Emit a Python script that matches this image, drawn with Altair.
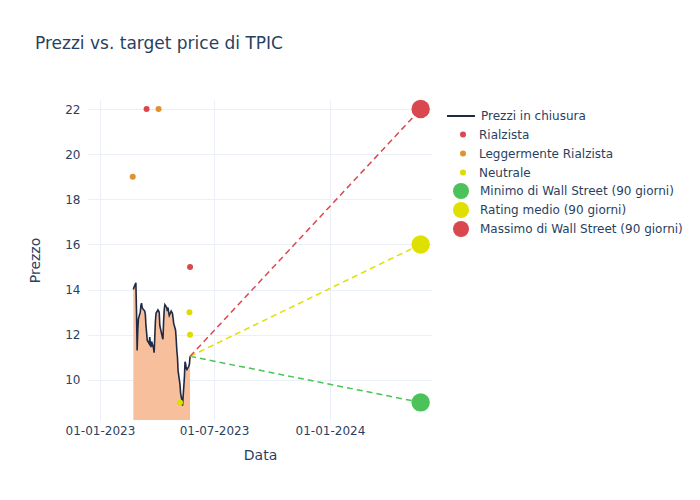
import altair as alt
import pandas as pd

FONT = "DejaVu Sans"
TXT = "#2a3f5f"

# --- closing prices (trading days 23-02-2023 .. 24-05-2023, Good Friday closed)
price_dates = [d for d in pd.bdate_range("2023-02-23", "2023-05-24") if d != pd.Timestamp("2023-04-07")]
price_values = [
    14.0, 14.1, 14.3, 13.0, 11.3, 12.2, 12.7, 13.0, 13.3, 13.4,
    13.2, 13.15, 13.05, 12.9, 12.4, 12.1, 11.75, 11.6, 11.9, 11.6,
    11.45, 11.7, 11.4, 11.2, 11.9, 12.6, 12.95, 13.1, 13.05, 13.0,
    12.4, 11.9, 11.8, 12.6, 13.1, 13.33, 13.2, 13.05, 13.2, 13.0,
    12.85, 13.05, 13.0, 12.95, 12.75, 12.5, 12.2, 11.8, 11.3, 11.0,
    10.4, 9.8, 9.4, 9.25, 9.1, 8.85, 10.1, 10.8, 10.7, 10.5,
    10.45, 10.6, 10.7, 11.04,
]

# --- analyst ratings
rating_names = ["Rialzista", "Leggermente Rialzista", "Neutrale"]
rating_colors = ["#D9474F", "#E0922F", "#DDDD00"]
analyst_dates = ["2023-02-22", "2023-03-16", "2023-04-04", "2023-05-08", "2023-05-23", "2023-05-24", "2023-05-24"]
analyst_targets = [19, 22, 22, 9, 13, 12, 15]
analyst_ratings = ["Leggermente Rialzista", "Rialzista", "Leggermente Rialzista", "Neutrale", "Neutrale", "Neutrale", "Rialzista"]

# --- Wall Street targets (90 days)
target_names = ["Minimo di Wall Street (90 giorni)", "Rating medio (90 giorni)", "Massimo di Wall Street (90 giorni)"]
target_values = [9, 16, 22]
target_colors = ["#4CC35A", "#E0E000", "#D9474F"]
target_date = "2024-05-24"

n = min(len(price_dates), len(price_values))
prices = pd.DataFrame({
    "date": price_dates[:n],
    "price": price_values[:n],
    "series": ["Prezzi in chiusura"] * n,
})
last_date = prices["date"].iloc[-1]
last_price = prices["price"].iloc[-1]

analysts = pd.DataFrame({
    "date": pd.to_datetime(analyst_dates),
    "price": analyst_targets,
    "rating": analyst_ratings,
})
targets = pd.DataFrame({
    "date": pd.to_datetime([target_date] * 3),
    "price": target_values,
    "name": target_names,
})

x_enc = alt.X(
    "date:T",
    scale=alt.Scale(domain=[alt.DateTime(year=2022, month=12, date=13),
                            alt.DateTime(year=2024, month=6, date=11)]),
    axis=alt.Axis(
        values=[alt.DateTime(year=2023, month=1, date=1),
                alt.DateTime(year=2023, month=7, date=1),
                alt.DateTime(year=2024, month=1, date=1)],
        format="%d-%m-%Y", title="Data", labelPadding=5, titlePadding=12,
    ),
)
y_enc = alt.Y(
    "price:Q",
    scale=alt.Scale(domain=[8.22, 22.4], zero=False, nice=False),
    axis=alt.Axis(values=[10, 12, 14, 16, 18, 20, 22], title="Prezzo",
                  labelPadding=8, titlePadding=22),
)

def leg(x, y, **kw):
    return alt.Legend(title=None, orient="none", legendX=x, legendY=y, padding=0,
                      labelFont=FONT, labelFontSize=12, labelColor=TXT, labelLimit=300,
                      symbolOpacity=1, **kw)

area = alt.Chart(prices).mark_area(color="#F8BF9C", opacity=1, clip=True).encode(
    x=x_enc, y=y_enc, y2=alt.datum(0)
)
line = alt.Chart(prices).mark_line(strokeWidth=1.6).encode(
    x=x_enc, y=y_enc,
    stroke=alt.Stroke("series:N",
                      scale=alt.Scale(domain=["Prezzi in chiusura"], range=["#1f2a44"]),
                      legend=leg(358, 1, symbolType="stroke", symbolSize=784,
                                 symbolStrokeWidth=2, labelOffset=5)),
)

dashed = []
for name, val, col in zip(target_names, target_values, target_colors):
    seg = pd.DataFrame({"date": [last_date, pd.Timestamp(target_date)],
                        "price": [last_price, val]})
    dashed.append(alt.Chart(seg).mark_line(color=col, strokeDash=[6, 4], strokeWidth=1.5)
                  .encode(x=x_enc, y=y_enc))

small = alt.Chart(analysts).mark_circle(size=36, opacity=1).encode(
    x=x_enc, y=y_enc,
    color=alt.Color("rating:N", scale=alt.Scale(domain=rating_names, range=rating_colors),
                    legend=leg(369, 28.5, symbolType="circle", symbolSize=36,
                               labelOffset=10, rowPadding=7)),
)
big = alt.Chart(targets).mark_circle(size=340, opacity=1).encode(
    x=x_enc, y=y_enc,
    fill=alt.Fill("name:N", scale=alt.Scale(domain=target_names, range=target_colors),
                  legend=leg(364, 82, symbolType="circle", symbolSize=256,
                             labelOffset=10, rowPadding=2)),
)

chart = alt.layer(area, line, *dashed, small, big).properties(
    width=344, height=320,
    background="white",
    padding={"left": 80, "top": 92, "right": 260, "bottom": 72},
    autosize=alt.AutoSizeParams(type="none"),
    title=alt.TitleParams("Prezzi vs. target price di TPIC", anchor="start", frame="group",
                          dx=-53, offset=47, font=FONT, fontSize=17, color=TXT,
                          fontWeight="normal"),
).configure_view(stroke=None).configure_axis(
    domain=False, ticks=False, grid=True, gridColor="#EBF0F8", gridWidth=1,
    labelColor=TXT, labelFont=FONT, labelFontSize=12,
    titleColor=TXT, titleFont=FONT, titleFontSize=14, titleFontWeight="normal",
)

chart.save("out.html", embed_options={"renderer": "svg", "actions": False})
